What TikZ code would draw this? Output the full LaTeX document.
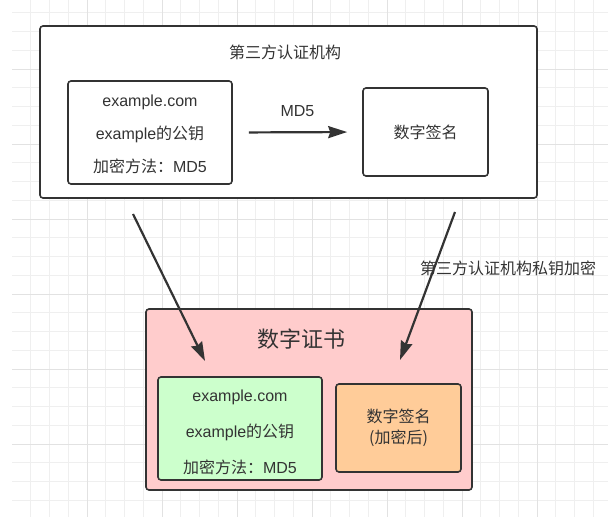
\documentclass[tikz,border=0pt]{standalone}
\usepackage{fontspec}
\setmainfont{Liberation Sans}
\newfontfamily\cjk{Noto Sans CJK SC}
\usetikzlibrary{arrows.meta}
\definecolor{ink}{HTML}{333333}
\definecolor{pinkfill}{HTML}{FFCCCC}
\definecolor{greenfill}{HTML}{CCFFCC}
\definecolor{orangefill}{HTML}{FFCC99}
\definecolor{gridminor}{HTML}{EFEFEF}
\definecolor{gridmajor}{HTML}{E2E2E2}
\begin{document}
\begin{tikzpicture}[x=1pt,y=-1pt,
    box/.style={draw=ink,line width=1.6pt,rounded corners=3pt,inner sep=0pt,align=center,text=ink},
    txt/.style={text=ink,font=\fontsize{16}{19}\selectfont,inner sep=0pt},
    link/.style={draw=ink,line width=2.2pt,-{Stealth[length=19pt,width=12pt,inset=2pt]}}]
  \useasboundingbox (0,0) rectangle (608,518);
  % background grid
  \foreach \k in {1,...,31}
    \draw[gridminor,line width=0.8pt] ({12+18.75*\k},0) -- ({12+18.75*\k},517);
  \foreach \k in {0,...,26}
    \draw[gridminor,line width=0.8pt] (12,{12.75+18.75*\k}) -- (608,{12.75+18.75*\k});
  \foreach \k in {1,...,7}
    \draw[gridmajor,line width=0.8pt] ({12+75*\k},0) -- ({12+75*\k},517);
  \foreach \k in {1,...,6}
    \draw[gridmajor,line width=0.8pt] (12,{-6+75*\k}) -- (608,{-6+75*\k});
  % certificate authority
  \draw
    (288.5,112) node[box,fill=white,minimum width=497pt,minimum height=172pt] (ca){}
    (285,52) node[txt] (caname){\cjk 第三方认证机构}
    (150,132.5) node[box,fill=white,minimum width=164pt,minimum height=103pt] (info){}
    (150,134) node[txt,align=center,font=\fontsize{16}{33}\selectfont] (infotext)
      {example.com\\example{\cjk 的公钥}\\{\cjk 加密方法：}MD5}
    (425.5,132) node[box,fill=white,minimum width=125pt,minimum height=88pt,
      font=\fontsize{16}{19}\selectfont\cjk] (sign){数字签名};
  % certificate
  \draw
    (309,399.5) node[box,fill=pinkfill,minimum width=326pt,minimum height=181pt] (cert){}
    (301,339) node[txt,font=\fontsize{22}{26}\selectfont\cjk] (certname){数字证书}
    (240,428.5) node[box,fill=greenfill,minimum width=164pt,minimum height=103pt] (certinfo){}
    (240,432) node[txt,align=center,font=\fontsize{16}{36}\selectfont] (certinfotext)
      {example.com\\example{\cjk 的公钥}\\{\cjk 加密方法：}MD5}
    (398.5,428) node[box,fill=orangefill,minimum width=125pt,minimum height=88pt,
      font=\fontsize{16}{21}\selectfont\cjk] (certsign){数字签名\\(加密后)};
  \coordinate (keyfrom) at (133,214);
  \coordinate (keyto) at (205,361);
  \coordinate (sigfrom) at (455,212);
  \coordinate (sigto) at (400,360);
  \node[txt] (privkey) at (508,268) {\cjk 第三方认证机构私钥加密};
  \begin{scope}[link]
    \draw[shorten <=16pt,shorten >=15pt] (info.east) to
      node[txt,above=14pt] (hashname){MD5} (sign.west);
    \draw (keyfrom) to (keyto);
    \draw (sigfrom) to (sigto);
  \end{scope}
\end{tikzpicture}
\end{document}
